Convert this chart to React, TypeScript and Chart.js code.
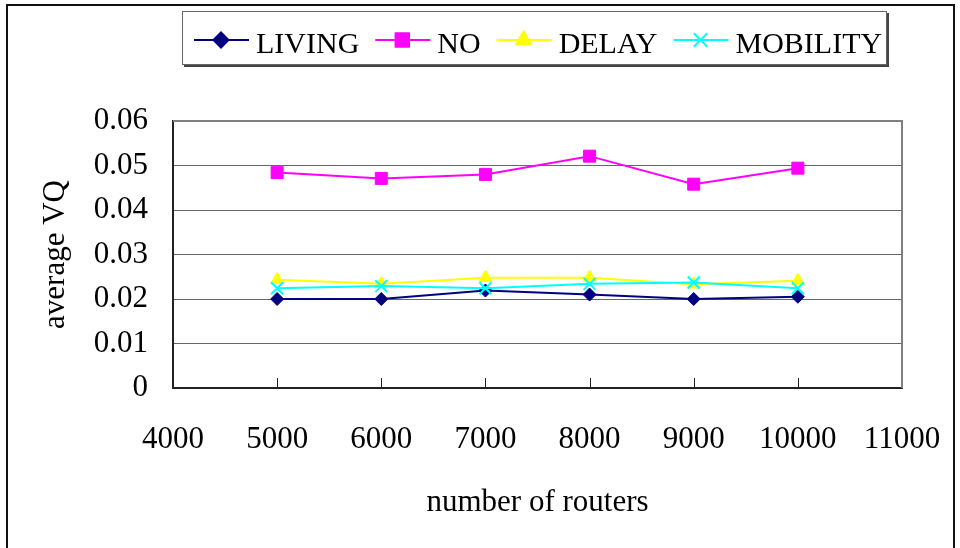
import { useEffect, useRef } from "react";
import { Chart, registerables } from "chart.js";
import { drawPoint } from "chart.js/helpers";

Chart.register(...registerables);

// Network sizes on the x axis
const routerCounts = [5000, 6000, 7000, 8000, 9000, 10000];

// Average VQ per strategy
const livingVQ = [0.02, 0.02, 0.0219, 0.021, 0.02, 0.0205];
const noVQ = [0.0484, 0.0471, 0.048, 0.0521, 0.0458, 0.0494];
const delayVQ = [0.0243, 0.0234, 0.0248, 0.0248, 0.0233, 0.0241];
const mobilityVQ = [0.0224, 0.0229, 0.0224, 0.0234, 0.0237, 0.0224];

const seriesNames = ["LIVING", "NO", "DELAY", "MOBILITY"];
const xAxisTitle = "number of routers";
const yAxisTitle = "average VQ";

const X_MIN = 4000;
const X_MAX = 11000;
const Y_MAX = 0.06;

const FONT = '"Liberation Serif", "Times New Roman", serif';

const toPoints = (values: number[]) =>
  routerCounts.map((x, i) => ({ x, y: values[i] }));

// Frame, inner tick marks, legend box and page border
const decorPlugin = {
  id: "decor",
  beforeDraw(chart: any) {
    const { ctx, width, height } = chart;
    ctx.save();
    ctx.fillStyle = "#ffffff";
    ctx.fillRect(0, 0, width, height);
    ctx.restore();
  },
  beforeDatasetsDraw(chart: any) {
    const { ctx, chartArea } = chart;
    const xScale = chart.scales.x;
    ctx.save();
    // top and right edges of the plot
    ctx.strokeStyle = "#808080";
    ctx.lineWidth = 2;
    ctx.beginPath();
    ctx.moveTo(chartArea.left, chartArea.top);
    ctx.lineTo(chartArea.right, chartArea.top);
    ctx.lineTo(chartArea.right, chartArea.bottom);
    ctx.stroke();
    // short tick marks rising from the x axis
    ctx.strokeStyle = "#222222";
    ctx.lineWidth = 1;
    const ticks = xScale.ticks;
    for (let i = 1; i < ticks.length - 1; i++) {
      const px = Math.round(xScale.getPixelForValue(ticks[i].value)) + 0.5;
      ctx.beginPath();
      ctx.moveTo(px, chartArea.bottom);
      ctx.lineTo(px, chartArea.bottom - 10);
      ctx.stroke();
    }
    ctx.restore();
  },
  afterDraw(chart: any) {
    const { ctx } = chart;
    ctx.save();

    // outer page border
    ctx.strokeStyle = "#111111";
    ctx.lineWidth = 2;
    ctx.beginPath();
    ctx.moveTo(7, 560);
    ctx.lineTo(7, 5);
    ctx.lineTo(954, 5);
    ctx.lineTo(954, 560);
    ctx.stroke();

    // legend box with a small shadow
    const bx = 182;
    const by = 11;
    const bw = 705;
    const bh = 54;
    ctx.fillStyle = "#444444";
    ctx.fillRect(bx + 2, by + 2, bw, bh);
    ctx.fillStyle = "#ffffff";
    ctx.fillRect(bx, by, bw, bh);
    ctx.strokeStyle = "#666666";
    ctx.lineWidth = 1;
    ctx.strokeRect(bx + 0.5, by + 0.5, bw - 1, bh - 1);

    ctx.font = `30px ${FONT}`;
    ctx.textBaseline = "alphabetic";
    ctx.textAlign = "left";
    const lineY = 40;
    let cx = 194;
    chart.data.datasets.forEach((ds: any) => {
      ctx.strokeStyle = ds.borderColor;
      ctx.lineWidth = 2;
      ctx.beginPath();
      ctx.moveTo(cx, lineY);
      ctx.lineTo(cx + 55, lineY);
      ctx.stroke();
      ctx.fillStyle = ds.pointBackgroundColor;
      ctx.strokeStyle = ds.pointBorderColor;
      drawPoint(
        ctx,
        {
          pointStyle: ds.pointStyle,
          radius: ds.pointRadius + 1,
          borderWidth: ds.pointBorderWidth,
          rotation: 0,
        },
        cx + 27,
        lineY
      );
      ctx.fillStyle = "#000000";
      ctx.fillText(ds.label, cx + 62, 53);
      cx += 62 + ctx.measureText(ds.label).width + 16;
    });
    ctx.restore();
  },
};

export default function App() {
  const canvasRef = useRef<HTMLCanvasElement | null>(null);

  useEffect(() => {
    const canvas = canvasRef.current;
    if (!canvas) return;

    const makeSeries = (
      label: string,
      values: number[],
      color: string,
      pointStyle: string,
      radius: number,
      order: number
    ) => ({
      label,
      data: toPoints(values),
      borderColor: color,
      backgroundColor: color,
      pointBackgroundColor: color,
      pointBorderColor: color,
      pointStyle,
      pointRadius: radius,
      pointBorderWidth: pointStyle === "crossRot" ? 2 : 1,
      borderWidth: 2,
      tension: 0,
      fill: false,
      order,
    });

    const chart = new Chart(canvas, {
      type: "line",
      data: {
        datasets: [
          makeSeries(seriesNames[0], livingVQ, "#000080", "rectRot", 6.5, 4),
          makeSeries(seriesNames[1], noVQ, "#ff00ff", "rect", 8.5, 3),
          makeSeries(seriesNames[2], delayVQ, "#ffff00", "triangle", 7.5, 2),
          makeSeries(seriesNames[3], mobilityVQ, "#00ffff", "crossRot", 8.5, 1),
        ] as any,
      },
      options: {
        responsive: false,
        animation: false,
        devicePixelRatio: 1,
        layout: { padding: { top: 121, right: 58, left: 0, bottom: 0 } },
        plugins: {
          legend: { display: false },
          tooltip: { enabled: false },
        },
        scales: {
          x: {
            type: "linear",
            min: X_MIN,
            max: X_MAX,
            afterFit: (s: any) => {
              s.height = 160;
              s.paddingLeft = 0;
              s.paddingRight = 0;
            },
            ticks: {
              stepSize: 1000,
              padding: 33,
              color: "#000000",
              font: { family: FONT, size: 31 },
              maxRotation: 0,
              callback: (v: any) => String(v),
            },
            grid: { display: false, drawTicks: false },
            border: { display: true, color: "#222222", width: 2 },
            title: {
              display: true,
              text: xAxisTitle,
              color: "#000000",
              font: { family: FONT, size: 31 },
              padding: { top: 0, bottom: 27 },
            },
          },
          y: {
            type: "linear",
            min: 0,
            max: Y_MAX,
            afterFit: (s: any) => {
              s.width = 173;
              s.paddingTop = 0;
              s.paddingBottom = 0;
            },
            ticks: {
              stepSize: 0.01,
              padding: 25,
              color: "#000000",
              font: { family: FONT, size: 31 },
              callback: (v: any) => String(Math.round(Number(v) * 100) / 100),
            },
            grid: { color: "#666666", lineWidth: 1, drawTicks: false },
            border: { display: true, color: "#222222", width: 2 },
            title: {
              display: true,
              text: yAxisTitle,
              color: "#000000",
              font: { family: FONT, size: 31 },
              padding: { top: 37, bottom: 0 },
            },
          },
        },
      } as any,
      plugins: [decorPlugin],
    });

    return () => chart.destroy();
  }, []);

  return (
    <div style={{ position: "absolute", left: 0, top: 0, width: 960, height: 548 }}>
      <canvas ref={canvasRef} width={960} height={548} style={{ display: "block" }} />
    </div>
  );
}
